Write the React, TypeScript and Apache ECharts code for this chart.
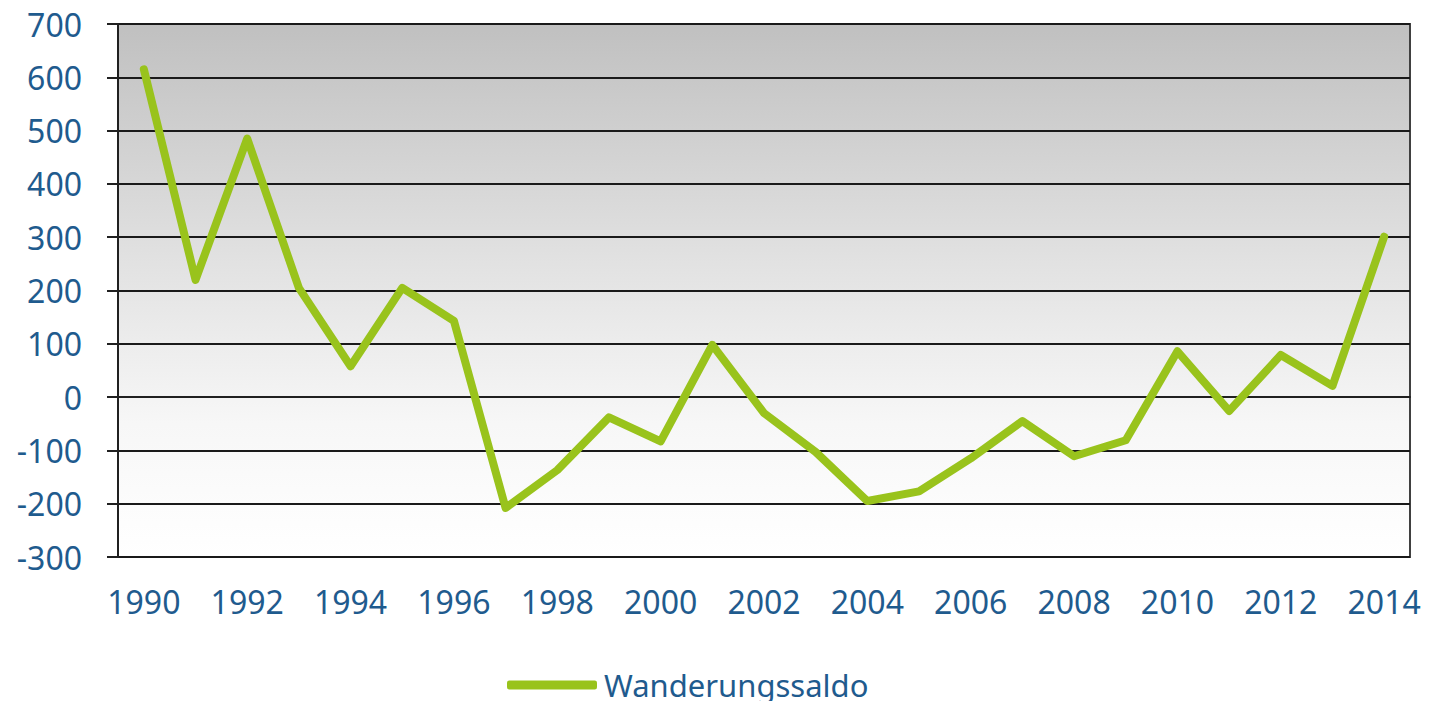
import React, { useEffect, useRef } from "react";
import * as echarts from "echarts";

const years = ["1990","1991","1992","1993","1994","1995","1996","1997","1998","1999","2000","2001","2002","2003","2004","2005","2006","2007","2008","2009","2010","2011","2012","2013","2014"];
const saldo = [615, 220, 485, 205, 58, 205, 143, -208, -137, -38, -83, 98, -30, -103, -195, -177, -115, -45, -111, -81, 86, -26, 79, 21, 301];
const seriesName = "Wanderungssaldo";

const labelColor = "#1f5b8e";
const lineColor = "#99c31c";
const font = "Noto Sans";

export default function App() {
  const ref = useRef<HTMLDivElement>(null);
  useEffect(() => {
    if (!ref.current) return;
    const chart = echarts.init(ref.current, null, { renderer: "svg" });
    chart.setOption({
      animation: false,
      grid: {
        left: 118,
        right: 23,
        top: 24,
        bottom: 152,
        show: true,
        borderColor: "#404040",
        borderWidth: 2,
        backgroundColor: {
          type: "linear", x: 0, y: 0, x2: 0, y2: 1,
          colorStops: [
            { offset: 0, color: "#c0c0c0" },
            { offset: 0.45, color: "#e2e2e2" },
            { offset: 0.75, color: "#f7f7f7" },
            { offset: 1, color: "#ffffff" },
          ],
        },
      },
      legend: {
        left: 507,
        bottom: 6,
        padding: 0,
        itemWidth: 90,
        itemHeight: 9,
        itemGap: 0,
        icon: "roundRect",
        textStyle: { color: labelColor, fontFamily: font, fontSize: 31, lineHeight: 36, padding: [0, 0, 0, 2] },
        data: [{ name: seriesName, itemStyle: { color: lineColor } }],
      },
      xAxis: {
        type: "category",
        data: years,
        boundaryGap: true,
        axisLine: { show: true, lineStyle: { color: "#202020", width: 2 } },
        axisTick: { show: false },
        axisLabel: { interval: 1, color: labelColor, fontFamily: font, fontSize: 32, margin: 28 },
        splitLine: { show: false },
      },
      yAxis: {
        type: "value",
        min: -300,
        max: 700,
        interval: 100,
        axisLine: { show: true, lineStyle: { color: "#202020", width: 2 } },
        axisTick: { show: true, length: 11, inside: false, lineStyle: { color: "#202020", width: 2 } },
        axisLabel: { color: labelColor, fontFamily: font, fontSize: 32, margin: 36 },
        splitLine: { show: true, lineStyle: { color: "#1a1a1a", width: 2 } },
      },
      series: [
        {
          name: seriesName,
          type: "line",
          data: saldo,
          symbol: "none",
          lineStyle: { color: lineColor, width: 8, cap: "round", join: "round" },
          itemStyle: { color: lineColor },
        },
      ],
    });
    return () => chart.dispose();
  }, []);
  return <div ref={ref} style={{ width: 1433, height: 709, margin: -8 }} />;
}
